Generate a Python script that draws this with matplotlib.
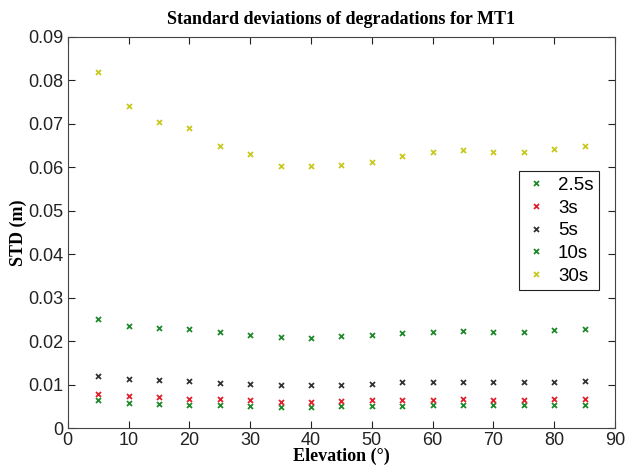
import matplotlib
matplotlib.use("Agg")
import matplotlib.pyplot as plt

elevation = [5, 10, 15, 20, 25, 30, 35, 40, 45, 50, 55, 60, 65, 70, 75, 80, 85]
std_2_5s = [0.0064, 0.0057, 0.0056, 0.0054, 0.0053, 0.0050, 0.0049, 0.0049, 0.0050,
            0.0051, 0.0051, 0.0053, 0.0053, 0.0053, 0.0053, 0.0054, 0.0054]
std_3s = [0.0079, 0.0074, 0.0071, 0.0068, 0.0066, 0.0064, 0.0061, 0.0061, 0.0063,
          0.0064, 0.0064, 0.0065, 0.0066, 0.0065, 0.0065, 0.0066, 0.0067]
std_5s = [0.0119, 0.0113, 0.0110, 0.0108, 0.0104, 0.0102, 0.0099, 0.0099, 0.0100,
          0.0102, 0.0105, 0.0106, 0.0106, 0.0105, 0.0106, 0.0106, 0.0108]
std_10s = [0.0250, 0.0235, 0.0230, 0.0228, 0.0220, 0.0215, 0.0209, 0.0208, 0.0211,
           0.0214, 0.0219, 0.0222, 0.0224, 0.0222, 0.0222, 0.0226, 0.0228]
std_30s = [0.0819, 0.0742, 0.0704, 0.0690, 0.0650, 0.0630, 0.0603, 0.0602, 0.0606,
           0.0613, 0.0627, 0.0636, 0.0639, 0.0634, 0.0635, 0.0642, 0.0649]

labels = ["2.5s", "3s", "5s", "10s", "30s"]
series = [std_2_5s, std_3s, std_5s, std_10s, std_30s]
colors = ["#1f8a2a", "#e0202a", "#333333", "#1f8a2a", "#c8c81e"]

fig = plt.figure(figsize=(6.27, 4.72), dpi=100)
ax = fig.add_axes([0.108, 0.093, 0.873, 0.829])

for lab, vals, c in zip(labels, series, colors):
    ax.plot(elevation, vals, linestyle="none", marker="x", markersize=3.6,
            markeredgewidth=1.3, color=c, label=lab)

ax.set_xlim(0, 90)
ax.set_ylim(0, 0.09)
ax.set_xticks(range(0, 91, 10))
ax.set_yticks([i * 0.01 for i in range(10)])
ax.set_yticklabels(["0"] + ["%.2f" % (i * 0.01) for i in range(1, 10)])

sans = ["Liberation Sans", "DejaVu Sans"]
serif = ["Liberation Serif", "DejaVu Serif"]
for lbl in ax.get_xticklabels() + ax.get_yticklabels():
    lbl.set_fontfamily(sans)
    lbl.set_fontsize(13)
ax.tick_params(direction="in", length=5, width=0.8, top=True, right=True,
               colors="#222222", pad=3)
for s in ax.spines.values():
    s.set_color("#444444")
    s.set_linewidth(0.8)

ax.set_title("Standard deviations of degradations for MT1", fontfamily=serif,
             fontweight="bold", fontsize=13, pad=9)
ax.set_xlabel("Elevation (°)", fontfamily=serif, fontweight="bold", fontsize=13, labelpad=-1)
ax.set_ylabel("STD (m)", fontfamily=serif, fontweight="bold", fontsize=13, labelpad=1)

leg = ax.legend(loc="upper right", bbox_to_anchor=(0.971, 0.657), prop={"family": sans, "size": 13.5},
                fancybox=False, framealpha=1, edgecolor="#222222", handlelength=1.2,
                handletextpad=0.6, borderpad=0.3, labelspacing=0.3, borderaxespad=0)
leg.get_frame().set_linewidth(0.8)

fig.savefig("out.png", dpi=100)
